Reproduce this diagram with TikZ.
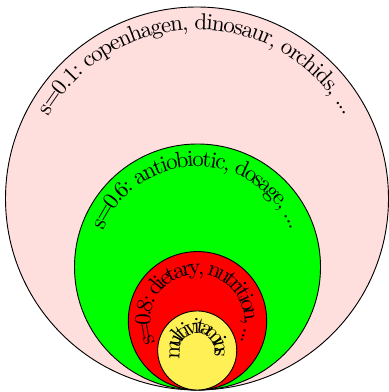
\documentclass[tikz,border=0pt]{standalone}
\usetikzlibrary{decorations.text}
\definecolor{pinkfill}{RGB}{255,222,222}
\definecolor{greenfill}{RGB}{0,255,0}
\definecolor{redfill}{RGB}{255,0,0}
\definecolor{yellowfill}{RGB}{255,240,85}
\tikzset{
  ring/.style={circle, draw=black, line width=0.4pt, inner sep=0pt, minimum size=#1},
  arctext/.style={decorate, decoration={text along path, text={#1}, text align=center, raise=-9.6pt}}
}
\begin{document}
\begin{tikzpicture}[x=0.435pt, y=0.435pt]
\useasboundingbox (0,0) rectangle (388,392);
\node[ring=166.6pt, fill=pinkfill] (outer) at (197,193.5) {};
\node[ring=107.0pt, fill=greenfill] (green) at (197.5,125) {};
\node[ring=60.2pt, fill=redfill] (red) at (197.5,71.2) {};
\node[ring=34.4pt, fill=yellowfill] (yellow) at (197.2,41.5) {};
\path[arctext={s=0.1: copenhagen, dinosaur, orchids, ...}] (outer.south) arc[start angle=270, end angle=-90, radius=83.3pt];
\path[arctext={s=0.6: antiobiotic, dosage, ...}] (green.south) arc[start angle=270, end angle=-90, radius=53.5pt];
\path[arctext={s=0.8: dietary, nutrition, ...}] (red.south) arc[start angle=270, end angle=-90, radius=30.1pt];
\path[arctext={multivitamins}] (yellow.south) arc[start angle=270, end angle=-90, radius=17.2pt];
\end{tikzpicture}
\end{document}
